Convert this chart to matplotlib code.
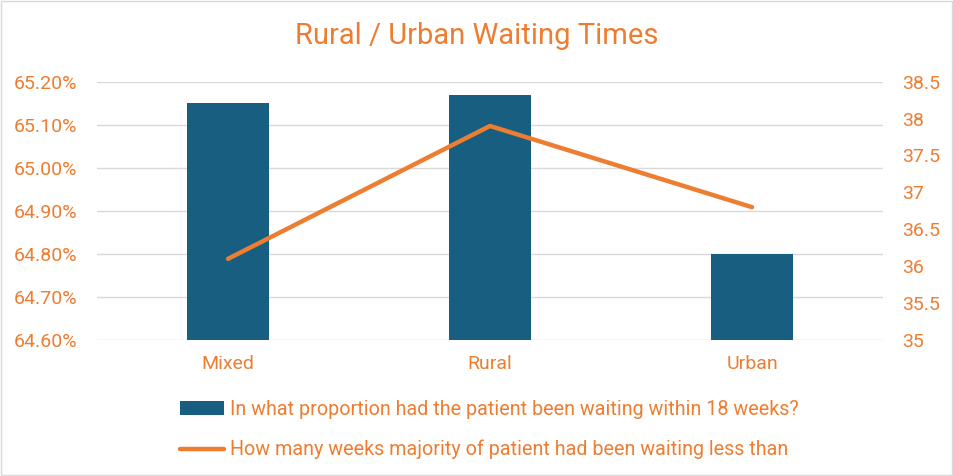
import matplotlib
matplotlib.use('Agg')
import matplotlib.pyplot as plt
from matplotlib.patches import Rectangle
from matplotlib.ticker import FuncFormatter, MultipleLocator

# chart data
categories = ['Mixed', 'Rural', 'Urban']
proportion_18wk = [65.15, 65.17, 64.80]      # percent
weeks_majority = [36.1, 37.9, 36.8]

bar_label = 'In what proportion had the patient been waiting within 18 weeks?'
line_label = 'How many weeks majority of patient had been waiting less than'

orange = '#ED7D31'
blue = '#175E80'
plt.rcParams['font.family'] = ['Roboto', 'DejaVu Sans']

fig = plt.figure(figsize=(9.54, 4.76), dpi=100)
ax = fig.add_axes([0.1017, 0.2857, 0.8239, 0.5427])
ax2 = ax.twinx()

x = list(range(len(categories)))
bars = ax.bar(x, proportion_18wk, width=0.31, color=blue, zorder=2, label=bar_label)
line, = ax2.plot(x, weeks_majority, color=orange, linewidth=3.2, solid_capstyle='round', label=line_label)

# left axis
ax.set_ylim(64.6, 65.2)
ax.yaxis.set_major_locator(MultipleLocator(0.1))
ax.yaxis.set_major_formatter(FuncFormatter(lambda v, p: '%.2f%%' % v))
ax.set_xlim(-0.5, 2.5)
ax.set_xticks(x)
ax.set_xticklabels(categories)
ax.grid(axis='y', color='#d9d9d9', linewidth=1, zorder=0)
ax.set_axisbelow(True)

# right axis
ax2.set_ylim(35, 38.5)
ax2.yaxis.set_major_locator(MultipleLocator(0.5))
ax2.yaxis.set_major_formatter(FuncFormatter(lambda v, p: ('%g' % v)))

for a in (ax, ax2):
    for s in a.spines.values():
        s.set_visible(False)
    a.tick_params(length=0, labelsize=14, colors=orange)
ax.tick_params(axis='y', pad=14)
ax.tick_params(axis='x', pad=11)
ax2.tick_params(axis='y', pad=14)

fig.text(0.5, 0.924, 'Rural / Urban Waiting Times', ha='center', va='center', fontsize=21, color=orange)

leg = fig.legend(handles=[bars, line], loc='center', bbox_to_anchor=(0.513, 0.097), ncol=1, frameon=False,
                 fontsize=14.2, handlelength=2.2, handletextpad=0.3, labelspacing=1.05)
for t in leg.get_texts():
    t.set_color(orange)

fig.patches.append(Rectangle((0.001, 0.002), 0.997, 0.995, transform=fig.transFigure, fill=False,
                             edgecolor='#d9d9d9', linewidth=1))

fig.savefig('out.png', dpi=100)
